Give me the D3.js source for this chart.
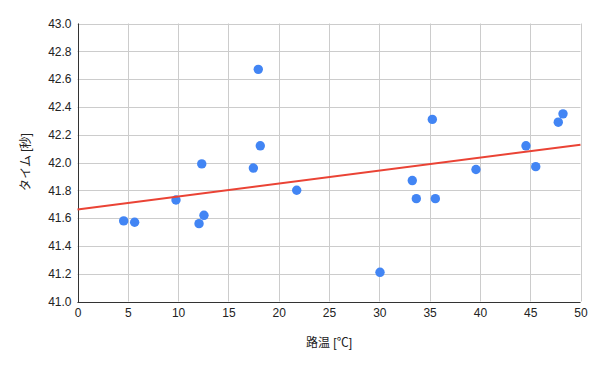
<!DOCTYPE html>
<html>
<head>
<meta charset="utf-8">
<script src="https://cdn.jsdelivr.net/npm/d3@7"></script>
<style>
  body { margin: 0; background: #fff; }
  svg { display: block; }
  text { font-family: Arial, "Liberation Sans", "Noto Sans CJK JP", sans-serif; }
</style>
</head>
<body>
<svg id="chart" width="599" height="367"></svg>
<script>
// Data
const roadTemp = [4.59, 5.68, 9.79, 12.35, 12.08, 12.57, 17.48, 17.97, 18.17, 21.79,
                  30.07, 33.28, 33.68, 35.27, 35.57, 39.61, 44.58, 45.55, 47.79, 48.26];
const lapTime  = [41.58, 41.57, 41.73, 41.99, 41.56, 41.62, 41.96, 42.67, 42.12, 41.80,
                  41.21, 41.87, 41.74, 42.31, 41.74, 41.95, 42.12, 41.97, 42.29, 42.35];
const xTicks = [0, 5, 10, 15, 20, 25, 30, 35, 40, 45, 50];
const yTicks = [41.0, 41.2, 41.4, 41.6, 41.8, 42.0, 42.2, 42.4, 42.6, 42.8, 43.0];
const xTitle = "路温 [℃]";
const yTitle = "タイム [秒]";

const svg = d3.select("#chart");
const L = 77.5, R = 580.5, T = 23.5, B = 301.5;

const x = d3.scaleLinear().domain([0, 50]).range([L, R]);
const y = d3.scaleLinear().domain([41, 43]).range([B, T]);

// grid
svg.append("g").selectAll("line").data(xTicks).join("line")
  .attr("x1", d => Math.round(x(d)) + 0.5).attr("x2", d => Math.round(x(d)) + 0.5)
  .attr("y1", T).attr("y2", B)
  .attr("stroke", "#cccccc").attr("stroke-width", 1);
svg.append("g").selectAll("line").data(yTicks).join("line")
  .attr("y1", d => Math.round(y(d)) + 0.5).attr("y2", d => Math.round(y(d)) + 0.5)
  .attr("x1", L).attr("x2", R)
  .attr("stroke", "#cccccc").attr("stroke-width", 1);

// axes baselines
svg.append("line").attr("x1", Math.round(x(0)) + 0.5).attr("x2", Math.round(x(0)) + 0.5)
  .attr("y1", T).attr("y2", Math.round(y(41)) + 0.5).attr("stroke", "#333").attr("stroke-width", 1);
svg.append("line").attr("x1", L).attr("x2", R)
  .attr("y1", Math.round(y(41)) + 0.5).attr("y2", Math.round(y(41)) + 0.5).attr("stroke", "#333").attr("stroke-width", 1);

// tick labels
const xAxis = d3.axisBottom(x).tickValues(xTicks).tickSize(0).tickPadding(7).tickFormat(d3.format("d"));
const gx = svg.append("g").attr("transform", `translate(0,${B})`).call(xAxis);
gx.select(".domain").remove();
gx.selectAll("text").attr("font-size", 12).attr("fill", "#222")
  .style("font-family", "Arial, 'Liberation Sans', sans-serif");

const yAxis = d3.axisLeft(y).tickValues(yTicks).tickSize(0).tickPadding(6).tickFormat(d3.format(".1f"));
const gy = svg.append("g").attr("transform", `translate(${L},0)`).call(yAxis);
gy.select(".domain").remove();
gy.selectAll("text").attr("font-size", 12).attr("fill", "#222")
  .style("font-family", "Arial, 'Liberation Sans', sans-serif");

// axis titles
svg.append("text").attr("x", 329).attr("y", 347).attr("text-anchor", "middle")
  .attr("font-size", 12).attr("fill", "#222").text(xTitle);
svg.append("text").attr("transform", "translate(30,162) rotate(-90)").attr("text-anchor", "middle")
  .attr("font-size", 12).attr("fill", "#222").text(yTitle);

// linear trendline (least squares)
const n = roadTemp.length;
const mx = d3.mean(roadTemp), my = d3.mean(lapTime);
let sxy = 0, sxx = 0;
for (let i = 0; i < n; i++) { sxy += (roadTemp[i] - mx) * (lapTime[i] - my); sxx += (roadTemp[i] - mx) ** 2; }
const slope = sxy / sxx, intercept = my - slope * mx;

// points
const pts = roadTemp.map((t, i) => ({ t, v: lapTime[i] }));
svg.append("g").selectAll("circle").data(pts).join("circle")
  .attr("cx", d => x(d.t)).attr("cy", d => y(d.v)).attr("r", 4.7)
  .attr("fill", "#4285f4");

svg.append("line")
  .attr("x1", x(0)).attr("y1", y(intercept))
  .attr("x2", x(50)).attr("y2", y(intercept + slope * 50))
  .attr("stroke", "#ea4335").attr("stroke-width", 2);
</script>
</body>
</html>
